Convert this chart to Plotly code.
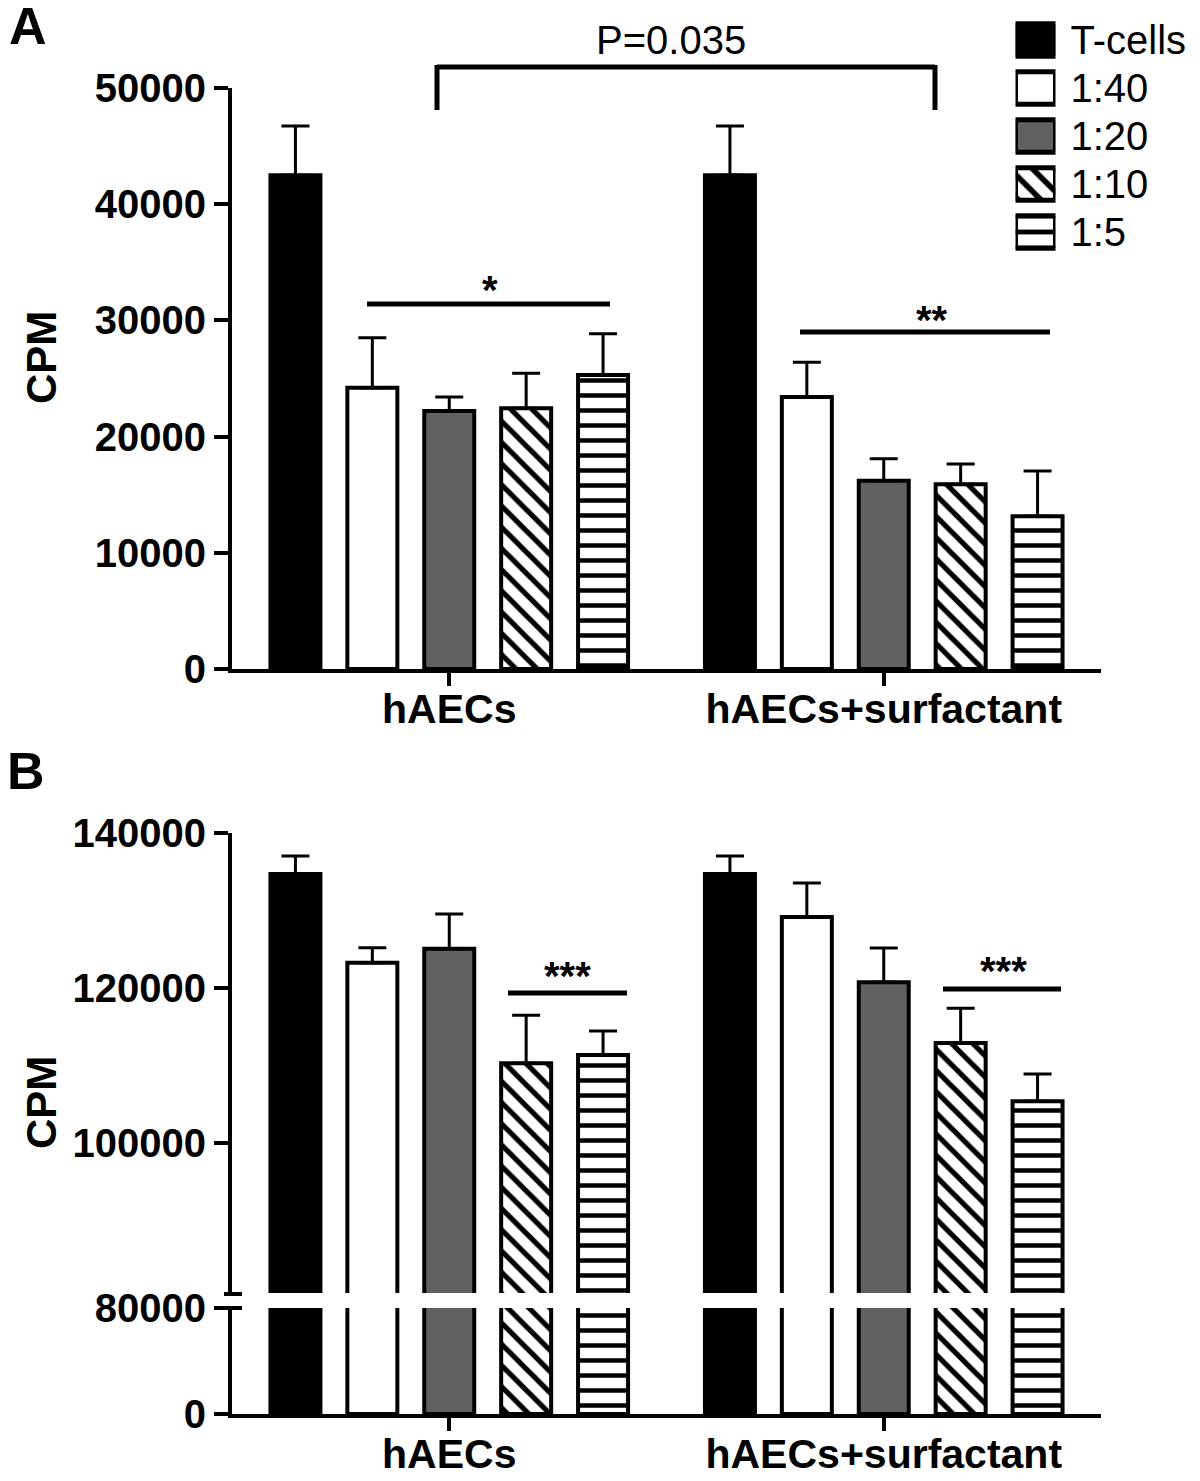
import plotly.graph_objects as go

# ---------------- data ----------------
groups = ["hAECs", "hAECs+surfactant"]
series_names = ["T-cells", "1:40", "1:20", "1:10", "1:5"]

# Panel A (CPM)
a_tcells = [42500, 42500]
a_1_40 = [24200, 23400]
a_1_20 = [22200, 16200]
a_1_10 = [22450, 15900]
a_1_5 = [25300, 13150]
a_tcells_err = [4230, 4230]
a_1_40_err = [4300, 3000]
a_1_20_err = [1200, 1900]
a_1_10_err = [3000, 1750]
a_1_5_err = [3550, 3900]

# Panel B (CPM)
b_tcells = [134700, 134700]
b_1_40 = [123250, 129150]
b_1_20 = [125050, 120750]
b_1_10 = [110300, 112900]
b_1_5 = [111350, 105400]
b_tcells_err = [2330, 2330]
b_1_40_err = [1950, 4400]
b_1_20_err = [4500, 4400]
b_1_10_err = [6200, 4500]
b_1_5_err = [3100, 3500]

a_ticks = [0, 10000, 20000, 30000, 40000, 50000]
b_ticks_upper = [100000, 120000, 140000]
b_ticks_lower = [0, 80000]

# ---------------- styling ----------------
W, H = 1200, 1481
OFF = 8  # page body margin
FONT = "Liberation Sans, Arial, Helvetica, sans-serif"
GRAY = "#616161"


def px(x):
    return (x - OFF) / W


def py(y):
    return 1 - (y - OFF) / H


def style(name, size=15):
    if name == "T-cells":
        return dict(color="black")
    if name == "1:40":
        return dict(color="white")
    if name == "1:20":
        return dict(color=GRAY)
    if name == "1:10":
        return dict(color="white", pattern=dict(shape="\\", fgcolor="black", bgcolor="white",
                                                 size=size, solidity=0.35, fillmode="replace"))
    return dict(color="white", pattern=dict(shape="-", fgcolor="black", bgcolor="white",
                                             size=size, solidity=0.3, fillmode="replace"))


a_means = [a_tcells, a_1_40, a_1_20, a_1_10, a_1_5]
a_errs = [a_tcells_err, a_1_40_err, a_1_20_err, a_1_10_err, a_1_5_err]
b_means = [b_tcells, b_1_40, b_1_20, b_1_10, b_1_5]
b_errs = [b_tcells_err, b_1_40_err, b_1_20_err, b_1_10_err, b_1_5_err]

fig = go.Figure()


def err(e):
    return dict(type="data", array=e, arrayminus=[0] * len(e), symmetric=False,
                color="black", thickness=3, width=14)


for name, m, e in zip(series_names, a_means, a_errs):
    fig.add_trace(go.Bar(x=groups, y=m, name=name, error_y=err(e),
                         marker=dict(**style(name), line=dict(color="black", width=4)),
                         xaxis="x", yaxis="y", showlegend=False))

for name, m, e in zip(series_names, b_means, b_errs):
    fig.add_trace(go.Bar(x=groups, y=m, name=name, error_y=err(e),
                         marker=dict(**style(name), line=dict(color="black", width=4)),
                         xaxis="x2", yaxis="y2", showlegend=False))
    fig.add_trace(go.Bar(x=groups, y=m, name=name,
                         marker=dict(**style(name), line=dict(color="black", width=4)),
                         xaxis="x3", yaxis="y3", showlegend=False))

# custom legend: one swatch bar per series on its own small axes
for name in series_names:
    fig.add_trace(go.Bar(x=[1], y=[name], orientation="h", width=0.68, offsetgroup="legend",
                         marker=dict(**style(name, size=16), line=dict(color="black", width=5)),
                         xaxis="x4", yaxis="y4", showlegend=False, cliponaxis=False))

xdom = [px(232), px(1101)]
tickfont_y = dict(family=FONT, size=40, color="black", weight="bold")
tickfont_x = dict(family=FONT, size=41, color="black", weight="bold")

common_y = dict(showline=True, linewidth=4, linecolor="black", ticks="outside", ticklen=14,
                tickwidth=4, tickcolor="black", tickfont=tickfont_y, showgrid=False,
                zeroline=False, tickformat="d", automargin=False)
common_x = dict(type="category", range=[-0.5, 1.5], domain=xdom, showgrid=False, zeroline=False,
                automargin=False)
label_x = dict(showline=True, linewidth=4, linecolor="black", ticks="outside", ticklen=13,
               tickwidth=4, tickcolor="black", tickfont=tickfont_x, ticklabelstandoff=-12)

fig.update_layout(
    width=W, height=H, template="none",
    paper_bgcolor="white", plot_bgcolor="rgba(0,0,0,0)",
    margin=dict(l=0, r=0, t=0, b=0),
    barmode="group", bargap=0.115, bargroupgap=0.35,
    font=dict(family=FONT, color="black"),
    xaxis=dict(**common_x, anchor="y", **label_x),
    yaxis=dict(**common_y, anchor="x", domain=[py(669), py(88)], range=[0, 50000],
               tickvals=a_ticks),
    xaxis2=dict(**common_x, anchor="y2", showline=False, showticklabels=False, ticks=""),
    yaxis2=dict(**common_y, anchor="x2", domain=[py(1293), py(833)], range=[80650, 140000],
                tickvals=b_ticks_upper),
    xaxis3=dict(**common_x, anchor="y3", **label_x),
    yaxis3=dict(**common_y, anchor="x3", domain=[py(1414), py(1308)], range=[0, 80000],
                tickvals=b_ticks_lower),
    xaxis4=dict(domain=[px(1015.5), px(1055.5)], range=[0, 1], anchor="y4", visible=False),
    yaxis4=dict(domain=[py(256), py(16)], anchor="x4", side="right", type="category",
                categoryorder="array", categoryarray=series_names,
                autorange="reversed", showline=False, ticks="", showgrid=False, zeroline=False,
                tickfont=dict(family=FONT, size=40, color="black"), ticklabelstandoff=14,
                automargin=False),
)

# ---------------- annotations / decorations ----------------
line_kw = dict(type="line", xref="paper", yref="paper", line=dict(color="black", width=5))
shapes = [
    # P bracket
    dict(**line_kw, x0=px(437), x1=px(935), y0=py(67), y1=py(67)),
    dict(**line_kw, x0=px(437), x1=px(437), y0=py(65), y1=py(110)),
    dict(**line_kw, x0=px(935), x1=px(935), y0=py(65), y1=py(110)),
    # significance lines
    dict(**line_kw, x0=px(367), x1=px(610), y0=py(304), y1=py(304)),
    dict(**line_kw, x0=px(800), x1=px(1050), y0=py(332), y1=py(332)),
    dict(**line_kw, x0=px(508), x1=px(627), y0=py(993), y1=py(993)),
    dict(**line_kw, x0=px(943), x1=px(1061), y0=py(989), y1=py(989)),
    # axis break marks
    dict(type="line", xref="paper", yref="paper", x0=px(224), x1=px(242), y0=py(1294), y1=py(1294),
         line=dict(color="black", width=4)),
    dict(type="line", xref="paper", yref="paper", x0=px(224), x1=px(242), y0=py(1308), y1=py(1308),
         line=dict(color="black", width=4)),
]
fig.update_layout(shapes=shapes)

ann = []


def text(t, x, y, size, bold=False, xanchor="center", yanchor="middle", angle=0):
    f = dict(family=FONT, size=size, color="black")
    if bold:
        f["weight"] = "bold"
    ann.append(dict(text=t, x=px(x), y=py(y), xref="paper", yref="paper", showarrow=False,
                    xanchor=xanchor, yanchor=yanchor, font=f, textangle=angle))


text("A", 28, 26, 52, bold=True)
text("B", 26, 771, 52, bold=True)
text("P=0.035", 671, 40, 40)
text("*", 490, 290, 40, bold=True)
text("**", 932, 320, 40, bold=True)
text("***", 567, 976, 40, bold=True)
text("***", 1003, 971, 40, bold=True)
text("CPM", 41, 358, 42, bold=True, angle=-90)
text("CPM", 41, 1103, 42, bold=True, angle=-90)
fig.update_layout(annotations=ann)

fig.write_html("out.html")
